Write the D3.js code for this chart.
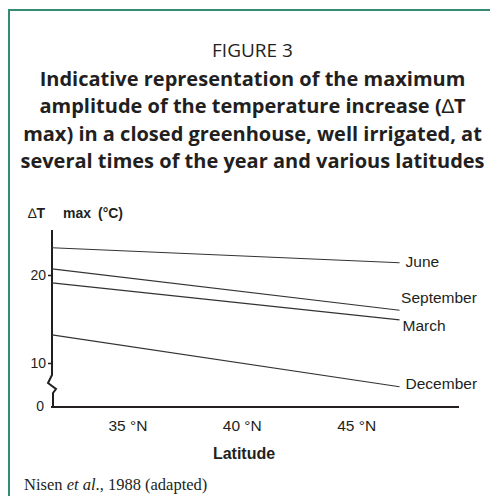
<!DOCTYPE html>
<html>
<head>
<meta charset="utf-8">
<script src="https://cdn.jsdelivr.net/npm/d3@7"></script>
<style>
  body { margin: 0; background: #fff; }
  svg { display: block; }
  .title { font-family: "Open Sans", sans-serif; fill: #231f20; }
  .chart text { font-family: "Liberation Sans", Arial, sans-serif; fill: #231f20; }
</style>
</head>
<body>
<script>
"use strict";

// Latitudes (°N) at which each curve starts and ends.
const latitudes = [31.7, 46.9];

// Delta T max (°C) per time of year, at the two latitudes above.
const months = ["June", "September", "March", "December"];
const june = [23.1, 21.4];
const september = [20.7, 16.0];
const march = [19.1, 14.9];
const december = [13.2, 7.3];
const seriesValues = [june, september, march, december];

const xTicks = [35, 40, 45];
const yTicks = [10, 20];

const titleLines = [
  "Indicative representation of the maximum",
  "amplitude of the temperature increase (\u2206T",
  "max) in a closed greenhouse, well irrigated, at",
  "several times of the year and various latitudes"
];

const width = 490;
const height = 496;
const frameColor = "#358c74";

const svg = d3.select("body").append("svg")
    .attr("width", width)
    .attr("height", height);

// Teal frame, open on the right and bottom.
svg.append("path")
    .attr("d", "M9,496 V10 H490")
    .attr("fill", "none")
    .attr("stroke", frameColor)
    .attr("stroke-width", 2);

// Heading
const titleX = 252.5;
svg.append("text")
    .attr("class", "title")
    .attr("x", titleX)
    .attr("y", 57)
    .attr("text-anchor", "middle")
    .style("font-size", "19px")
    .text("FIGURE 3");

let heading = svg.append("text")
    .attr("class", "title")
    .attr("text-anchor", "middle")
    .style("font-size", "20px")
    .style("font-weight", "bold");

titleLines.forEach((line, i) => {
  let tspan = heading.append("tspan")
      .attr("x", titleX)
      .attr("y", 86 + i * 27.3);
  // The delta sign is set lighter than the rest of the heading.
  let parts = line.split("\u2206");
  parts.forEach((part, j) => {
    if (j > 0) {
      tspan.append("tspan")
          .style("font-weight", "normal")
          .style("font-family", "'Liberation Sans', sans-serif")
          .text("\u2206");
    }
    tspan.append("tspan").text(part);
  });
});

// Chart
const chart = svg.append("g").attr("class", "chart");

const x = d3.scaleLinear()
    .domain([31.7, 49.5])
    .range([52, 459]);

const y = d3.scaleLinear()
    .domain([5, 25])
    .range([407, 231]);

const y0 = y.range()[0];
const yTop = 230;

// x axis without tick marks
const xAxis = chart.append("g")
    .attr("transform", `translate(0,${y0})`)
    .call(d3.axisBottom(x)
          .tickValues(xTicks)
          .tickSize(0)
          .tickPadding(13)
          .tickFormat(d => `${d} °N`));
xAxis.select(".domain")
    .attr("d", `M${x.range()[0] - 1},0H${x.range()[1]}`)
    .attr("stroke", "#231f20")
    .attr("stroke-width", 2);
xAxis.selectAll(".tick text")
    .style("font-size", "15.5px");

// y axis: ticks from d3, axis line drawn by hand for the break
const yAxis = chart.append("g")
    .attr("transform", `translate(${x.range()[0]},0)`)
    .call(d3.axisLeft(y)
          .tickValues(yTicks)
          .tickSize(4)
          .tickPadding(2)
          .tickFormat(d3.format("d")));
yAxis.select(".domain").remove();
yAxis.selectAll(".tick line")
    .attr("stroke", "#231f20")
    .attr("stroke-width", 1.5);
yAxis.selectAll(".tick text")
    .style("font-size", "14px");

const ax = x.range()[0];
chart.append("path")
    .attr("d", `M${ax},${yTop} V${y0 - 32} L${ax - 4},${y0 - 24} L${ax + 4},${y0 - 18} L${ax + 1},${y0 - 14} V${y0 + 1}`)
    .attr("fill", "none")
    .attr("stroke", "#231f20")
    .attr("stroke-width", 2);

// Baseline label below the break
chart.append("text")
    .attr("x", ax - 8)
    .attr("y", y0)
    .attr("dy", "0.32em")
    .attr("text-anchor", "end")
    .style("font-size", "14px")
    .text("0");

// Curves
const line = d3.line()
    .x((d, i) => x(latitudes[i]))
    .y(d => y(d));

chart.append("g")
    .selectAll("path")
    .data(seriesValues)
    .join("path")
    .attr("d", line)
    .attr("fill", "none")
    .attr("stroke", "#333")
    .attr("stroke-width", 1.1);

// Month labels next to the line ends, nudged apart as in the print
const labelNudge = [{dx: 6, dy: 4.5}, {dx: 1.5, dy: -7}, {dx: 3, dy: 11.5}, {dx: 6, dy: 2}];
chart.append("g")
    .selectAll("text")
    .data(months)
    .join("text")
    .attr("x", (d, i) => x(latitudes[1]) + labelNudge[i].dx)
    .attr("y", (d, i) => y(seriesValues[i][1]) + labelNudge[i].dy)
    .style("font-size", "15.5px")
    .text(d => d);

// Axis titles
let yTitle = chart.append("text")
    .attr("x", 28)
    .attr("y", 218)
    .style("font-size", "14px")
    .style("font-weight", "bold");
yTitle.append("tspan").style("font-weight", "normal").text("\u2206");
yTitle.append("tspan").text("T");
yTitle.append("tspan").attr("x", 63).text("max");
yTitle.append("tspan").attr("x", 98).text("(°C)");

chart.append("text")
    .attr("x", 244)
    .attr("y", 459)
    .attr("text-anchor", "middle")
    .style("font-size", "16px")
    .style("font-weight", "bold")
    .text("Latitude");

// Source
let source = svg.append("text")
    .attr("x", 24)
    .attr("y", 490)
    .style("font-family", "'Liberation Serif', serif")
    .style("font-size", "16.5px")
    .style("fill", "#231f20");
source.append("tspan").text("Nisen ");
source.append("tspan").style("font-style", "italic").text("et al");
source.append("tspan").text("., 1988 (adapted)");
</script>
</body>
</html>
